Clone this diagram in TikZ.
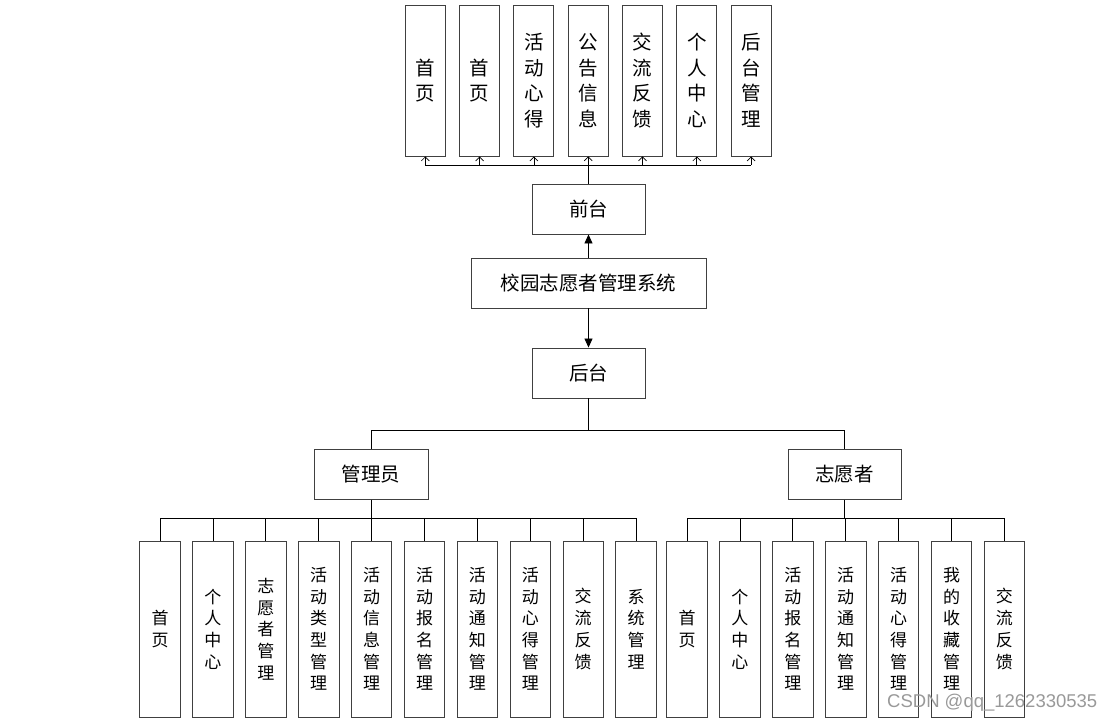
\documentclass[tikz,border=0pt]{standalone}
\usepackage{fontspec}
\setmainfont{Noto Sans CJK SC}
\newfontfamily\wmfont{Liberation Sans}
\usetikzlibrary{arrows.meta}
\begin{document}
\begin{tikzpicture}[x=1pt,y=-1pt,
  box/.style={draw=black!75, line width=0.9pt, fill=white, inner sep=0pt, align=center},
  topbox/.style={box, minimum width=40pt, minimum height=151pt, font=\fontsize{19.5}{25.5}\selectfont},
  midbox/.style={box, minimum width=113pt, minimum height=50pt, font=\fontsize{19.5}{22}\selectfont},
  leafbox/.style={box, minimum width=40.5pt, minimum height=176pt, font=\fontsize{17}{21.7}\selectfont},
  conn/.style={draw=black, line width=0.8pt},
  openarr/.style={conn, -{Straight Barb[length=4pt,width=8pt,line width=0.7pt]}},
  fillarr/.style={conn, -{Triangle[length=9pt,width=8pt]}}
]
\useasboundingbox (0,0) rectangle (1112,723);
\fill[white] (0,0) rectangle (1112,723);

% top boxes
\node[topbox] (t1) at (425.3,80.5) {首\\页};
\node[topbox] (t2) at (479.6,80.5) {首\\页};
\node[topbox] (t3) at (533.9,80.5) {活\\动\\心\\得};
\node[topbox] (t4) at (588.2,80.5) {公\\告\\信\\息};
\node[topbox] (t5) at (642.5,80.5) {交\\流\\反\\馈};
\node[topbox] (t6) at (696.8,80.5) {个\\人\\中\\心};
\node[topbox] (t7) at (751.1,80.5) {后\\台\\管\\理};

\node[midbox] (qt) at (588.5,209) {前台};
\node[midbox, minimum width=235pt] (sys) at (588.5,283) {校园志愿者管理系统};
\node[midbox] (ht) at (588.5,373) {后台};
\node[midbox, minimum width=114pt] (adm) at (371,474.5) {管理员};
\node[midbox] (vol) at (844.5,474.5) {志愿者};

% admin leaves
\node[leafbox] (a1) at (160.0,629) {首\\页};
\node[leafbox] (a2) at (212.9,629) {个\\人\\中\\心};
\node[leafbox] (a3) at (265.8,629) {志\\愿\\者\\管\\理};
\node[leafbox] (a4) at (318.7,629) {活\\动\\类\\型\\管\\理};
\node[leafbox] (a5) at (371.6,629) {活\\动\\信\\息\\管\\理};
\node[leafbox] (a6) at (424.5,629) {活\\动\\报\\名\\管\\理};
\node[leafbox] (a7) at (477.4,629) {活\\动\\通\\知\\管\\理};
\node[leafbox] (a8) at (530.3,629) {活\\动\\心\\得\\管\\理};
\node[leafbox] (a9) at (583.2,629) {交\\流\\反\\馈};
\node[leafbox] (a10) at (636.1,629) {系\\统\\管\\理};

% volunteer leaves
\node[leafbox] (v1) at (687.0,629) {首\\页};
\node[leafbox] (v2) at (739.9,629) {个\\人\\中\\心};
\node[leafbox] (v3) at (792.8,629) {活\\动\\报\\名\\管\\理};
\node[leafbox] (v4) at (845.7,629) {活\\动\\通\\知\\管\\理};
\node[leafbox] (v5) at (898.6,629) {活\\动\\心\\得\\管\\理};
\node[leafbox] (v6) at (951.5,629) {我\\的\\收\\藏\\管\\理};
\node[leafbox] (v7) at (1004.4,629) {交\\流\\反\\馈};

% bus coordinates
\coordinate (tb) at (588.5,165);
\coordinate (hb) at (588.5,430);
\coordinate (ab) at (371,518);
\coordinate (vb) at (844.5,518);

% top connectors
\draw[conn] (qt.north) -- (qt.north |- tb);
\draw[conn] (t1.south |- tb) -- (t7.south |- tb);
\foreach \i in {1,...,7} {\draw[openarr] (t\i.south |- tb) -- (t\i.south);}

% system arrows
\draw[fillarr] (sys.north) -- (qt.south);
\draw[fillarr] (sys.south) -- (ht.north);

% backend tree
\draw[conn] (ht.south) -- (hb);
\draw[conn] (adm.north) -- (adm.north |- hb) -- (vol.north |- hb) -- (vol.north);

\draw[conn] (adm.south) -- (ab);
\draw[conn] (a1.north |- ab) -- (a10.north |- ab);
\foreach \i in {1,...,10} {\draw[conn] (a\i.north |- ab) -- (a\i.north);}

\draw[conn] (vol.south) -- (vb);
\draw[conn] (v1.north |- vb) -- (v7.north |- vb);
\foreach \i in {1,...,7} {\draw[conn] (v\i.north |- vb) -- (v\i.north);}

% watermark
\node[anchor=west, text=black!40, font=\wmfont\fontsize{18.5}{18.5}\selectfont, inner sep=0pt] (wm) at (887,703) {CSDN @qq\_1262330535};
\end{tikzpicture}
\end{document}
